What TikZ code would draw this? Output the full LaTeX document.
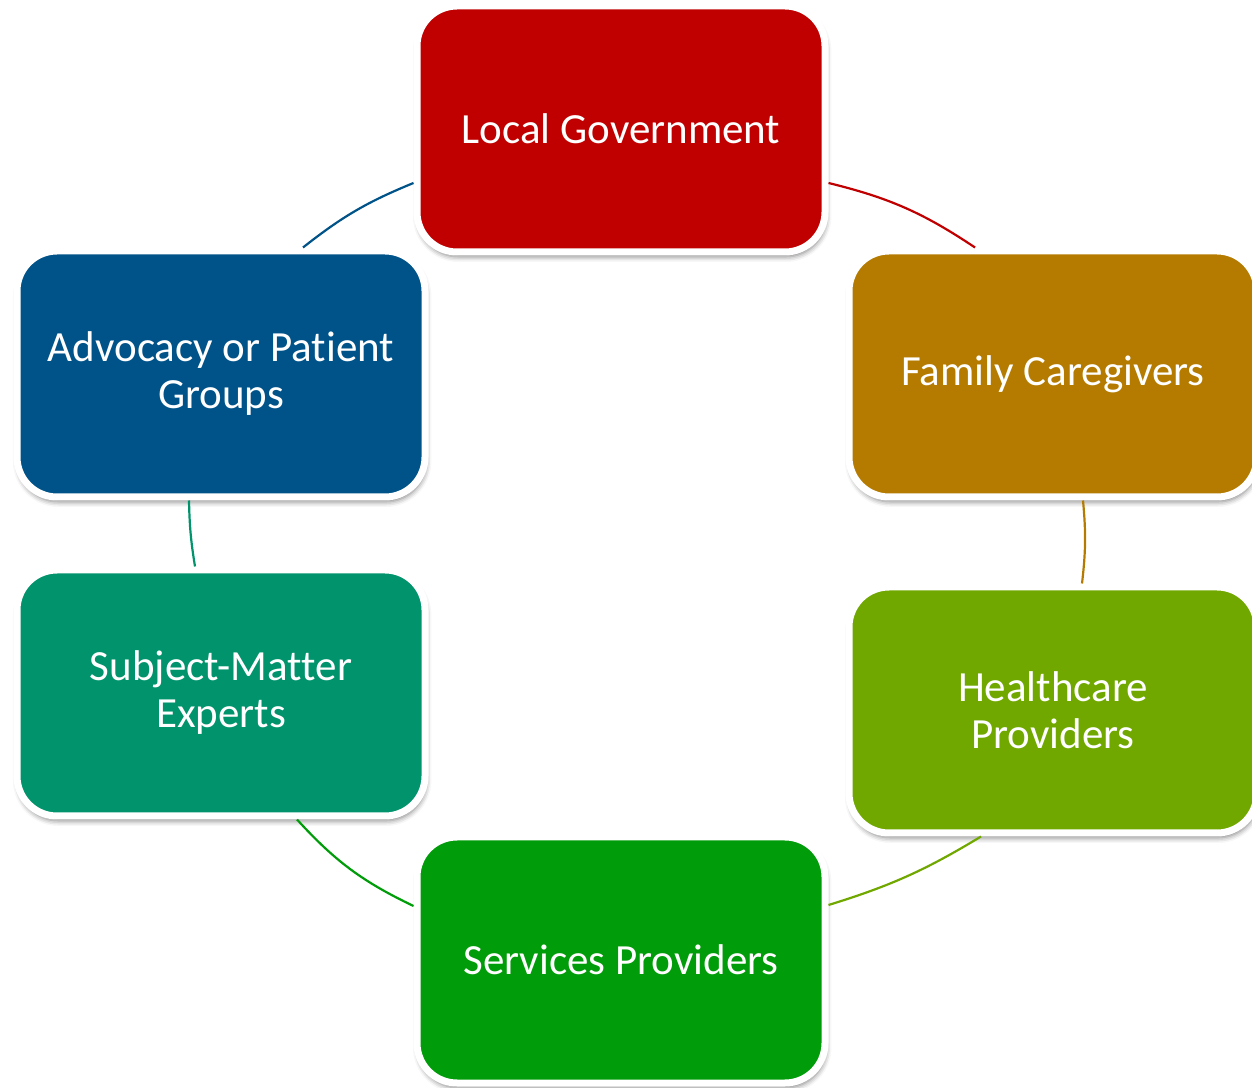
\documentclass[tikz,border=0pt]{standalone}
\usepackage{fontspec}
\setmainfont{Carlito}[Ligatures=NoCommon]
\usetikzlibrary{calc,shadows.blur}

\definecolor{lgred}{HTML}{C00000}
\definecolor{fcgold}{HTML}{B47B00}
\definecolor{hplime}{HTML}{70A800}
\definecolor{spgreen}{HTML}{009C09}
\definecolor{smeteal}{HTML}{00936C}
\definecolor{apblue}{HTML}{005389}

\tikzset{
  stage/.style={rectangle, rounded corners=20pt, draw=white, line width=3.5pt,
    minimum width=204pt, minimum height=123pt, inner sep=0pt, align=center,
    text=white, font=\fontsize{21.5}{23.5}\selectfont,
    blur shadow={shadow xshift=0.6pt, shadow yshift=-2.4pt,
      shadow blur radius=2.6pt, shadow opacity=50}},
  link/.style={line width=1.1pt}
}

\begin{document}
\begin{tikzpicture}[x=0.5pt,y=0.5pt]
  \useasboundingbox (0,0) rectangle (1252,1087);

  % the six stakeholder groups, clockwise from the top
  \node[stage, fill=lgred]   (lg)  at (621,958)  {Local Government};
  \node[stage, fill=fcgold]  (fc)  at (1053,713) {Family Caregivers};
  \node[stage, fill=hplime]  (hp)  at (1053,377) {Healthcare\\Providers};
  \node[stage, fill=spgreen] (sp)  at (621,127)  {Services Providers};
  \node[stage, fill=smeteal] (sme) at (221,394)  {Subject-Matter\\Experts};
  \node[stage, fill=apblue]  (ap)  at (221,713)  {Advocacy or Patient\\Groups};

  % arcs joining neighbouring groups around the cycle
  \draw[link, lgred]   ($(lg.east)+(0,-54)$)  to[bend left=10] ($(fc.north)+(-78,0)$);
  \draw[link, fcgold]  ($(fc.south)+(30,0)$)  to[bend left=6]  ($(hp.north)+(29,0)$);
  \draw[link, hplime]  ($(hp.south)+(-72,0)$) to[bend left=7]  ($(sp.east)+(0,55)$);
  \draw[link, spgreen] ($(sp.west)+(0,54)$)   to[bend left=11] ($(sme.south)+(76,0)$);
  \draw[link, smeteal] ($(sme.north)+(-26,0)$) to[bend left=4] ($(ap.south)+(-32,0)$);
  \draw[link, apblue]  ($(ap.north)+(82,0)$)  to[bend left=8]  ($(lg.west)+(0,-54)$);
\end{tikzpicture}
\end{document}
